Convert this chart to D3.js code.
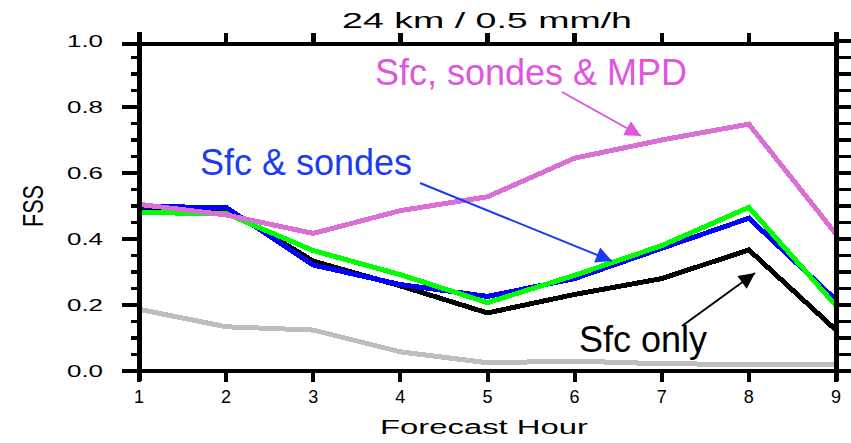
<!DOCTYPE html>
<html><head><meta charset="utf-8">
<script src="https://cdn.jsdelivr.net/npm/d3@7"></script>
<style>html,body{margin:0;padding:0;background:#fff;}svg{display:block;}</style>
</head><body>
<script>
const hours = [1, 2, 3, 4, 5, 6, 7, 8, 9];
const sfcSondesMpd = [0.505, 0.473, 0.417, 0.486, 0.528, 0.645, 0.700, 0.748, 0.415];
const sfcSondes    = [0.498, 0.496, 0.321, 0.262, 0.226, 0.280, 0.372, 0.463, 0.215];
const greenSeries  = [0.480, 0.477, 0.365, 0.292, 0.207, 0.290, 0.380, 0.496, 0.198];
const sfcOnly      = [0.495, 0.493, 0.333, 0.258, 0.176, 0.232, 0.280, 0.367, 0.124];
const graySeries   = [0.187, 0.134, 0.124, 0.058, 0.025, 0.030, 0.022, 0.020, 0.020];
const yTicks = [0.0, 0.2, 0.4, 0.6, 0.8, 1.0];
const yTickLabels = ["0.0", "0.2", "0.4", "0.6", "0.8", "1.0"];
const xTickLabels = ["1", "2", "3", "4", "5", "6", "7", "8", "9"];
const titleText = "24 km / 0.5 mm/h";
const xLabel = "Forecast Hour";
const yLabel = "FSS";

const W = 851, H = 443;
const svg = d3.select("body").append("svg").attr("width", W).attr("height", H);
const font = "'Liberation Sans', Arial, sans-serif";

const x = d3.scaleLinear().domain([1, 9]).range([139, 836]);
const y = d3.scaleLinear().domain([0, 1]).range([371, 41]);

// series (draw order)
const series = [
  {v: graySeries, c: "#bebebe"},
  {v: sfcOnly, c: "#000000"},
  {v: sfcSondes, c: "#0000ff"},
  {v: greenSeries, c: "#00ff00"},
  {v: sfcSondesMpd, c: "#da70d6"}
];
const line = d3.line().x((d, i) => x(hours[i])).y(d => y(d));
svg.append("g").selectAll("path").data(series).join("path")
  .attr("d", d => line(d.v))
  .attr("fill", "none").attr("stroke", d => d.c)
  .attr("stroke-width", 5).attr("stroke-linejoin", "miter")
  .attr("shape-rendering", "crispEdges");

// frame
const topY = y(1) + 3;
const g = svg.append("g").attr("shape-rendering", "crispEdges");
g.append("line").attr("x1", x(1) - 2.5).attr("x2", x(9) + 2.5).attr("y1", y(0)).attr("y2", y(0)).attr("stroke", "#000").attr("stroke-width", 3.5);
g.append("line").attr("x1", x(1) - 2.5).attr("x2", x(9) + 2.5).attr("y1", topY).attr("y2", topY).attr("stroke", "#000").attr("stroke-width", 3.5);
g.append("line").attr("x1", x(1)).attr("x2", x(1)).attr("y1", topY - 12).attr("y2", y(0) + 10).attr("stroke", "#000").attr("stroke-width", 5);
g.append("line").attr("x1", x(9)).attr("x2", x(9)).attr("y1", topY - 12).attr("y2", y(0) + 10).attr("stroke", "#000").attr("stroke-width", 5);

// x ticks top and bottom
g.selectAll(".xt").data(hours).join("line")
  .attr("x1", d => x(d)).attr("x2", d => x(d)).attr("y1", topY - 11).attr("y2", topY)
  .attr("stroke", "#000").attr("stroke-width", 4.5);
g.selectAll(".xb").data(hours).join("line")
  .attr("x1", d => x(d)).attr("x2", d => x(d)).attr("y1", y(0)).attr("y2", y(0) + 11)
  .attr("stroke", "#000").attr("stroke-width", 4);

// y ticks
const minor = d3.range(0, 21).map(i => i * 0.05).filter(v => v < 0.999 && Math.abs(v / 0.2 - Math.round(v / 0.2)) > 1e-6);
g.selectAll(".ymaj").data(yTicks.slice(0, 5)).join("line")
  .attr("x1", x(1) - 17).attr("x2", x(1)).attr("y1", d => y(d)).attr("y2", d => y(d))
  .attr("stroke", "#000").attr("stroke-width", 4);
g.append("line").attr("x1", x(1) - 17).attr("x2", x(1)).attr("y1", topY).attr("y2", topY).attr("stroke", "#000").attr("stroke-width", 4);
g.selectAll(".ymin").data(minor).join("line")
  .attr("x1", x(1) - 8).attr("x2", x(1)).attr("y1", d => y(d)).attr("y2", d => y(d))
  .attr("stroke", "#000").attr("stroke-width", 3.5);
g.selectAll(".yrmaj").data(yTicks.concat(minor)).join("line")
  .attr("x1", x(9)).attr("x2", x(9) + 15).attr("y1", d => y(d)).attr("y2", d => y(d))
  .attr("stroke", "#000").attr("stroke-width", 3.5);

// tick labels
svg.selectAll(".ylab").data(yTicks).join("text")
  .attr("x", 103).attr("y", d => y(d) + 6)
  .attr("text-anchor", "end").attr("font-family", font).attr("font-size", 17)
  .attr("textLength", 36).attr("lengthAdjust", "spacingAndGlyphs")
  .text((d, i) => yTickLabels[i]);
svg.selectAll(".xlab").data(hours).join("text")
  .attr("x", d => x(d)).attr("y", 403)
  .attr("text-anchor", "middle").attr("font-family", font).attr("font-size", 18)
  .text((d, i) => xTickLabels[i]);

// titles
svg.append("text").attr("x", 342).attr("y", 28).attr("font-family", font).attr("font-size", 22)
  .attr("textLength", 290).attr("lengthAdjust", "spacingAndGlyphs").text(titleText);
svg.append("text").attr("x", 380).attr("y", 434).attr("font-family", font).attr("font-size", 20)
  .attr("textLength", 208).attr("lengthAdjust", "spacingAndGlyphs").text(xLabel);
svg.append("text").attr("transform", "translate(43,227) rotate(-90)").attr("font-family", font).attr("font-size", 30)
  .attr("textLength", 42).attr("lengthAdjust", "spacingAndGlyphs").text(yLabel);

// annotations
const defs = svg.append("defs");
function marker(id, color) {
  defs.append("marker").attr("id", id).attr("viewBox", "0 0 10 10").attr("refX", 10).attr("refY", 5)
    .attr("markerUnits", "userSpaceOnUse").attr("markerWidth", 18).attr("markerHeight", 16).attr("orient", "auto")
    .append("path").attr("d", "M0,0 L10,5 L0,10 Z").attr("fill", color);
}
marker("mp", "#e055dd"); marker("mb", "#1a3cf5"); marker("mk", "#000");
const ann = [
  {t: "Sfc, sondes & MPD", tx: 375, ty: 85, c: "#e055dd", m: "mp", a: [[562, 92], [641, 136]]},
  {t: "Sfc & sondes", tx: 200, ty: 175, c: "#1a3cf5", m: "mb", a: [[420, 183], [612, 261]]},
  {t: "Sfc only", tx: 579, ty: 352, c: "#000", m: "mk", a: [[682, 326], [755, 273]]}
];
svg.selectAll(".at").data(ann).join("text")
  .attr("x", d => d.tx).attr("y", d => d.ty).attr("fill", d => d.c)
  .attr("font-family", font).attr("font-size", 36).text(d => d.t);
svg.selectAll(".al").data(ann).join("line")
  .attr("x1", d => d.a[0][0]).attr("y1", d => d.a[0][1]).attr("x2", d => d.a[1][0]).attr("y2", d => d.a[1][1])
  .attr("stroke", d => d.c).attr("stroke-width", 2).attr("marker-end", d => `url(#${d.m})`);
</script>
</body></html>
